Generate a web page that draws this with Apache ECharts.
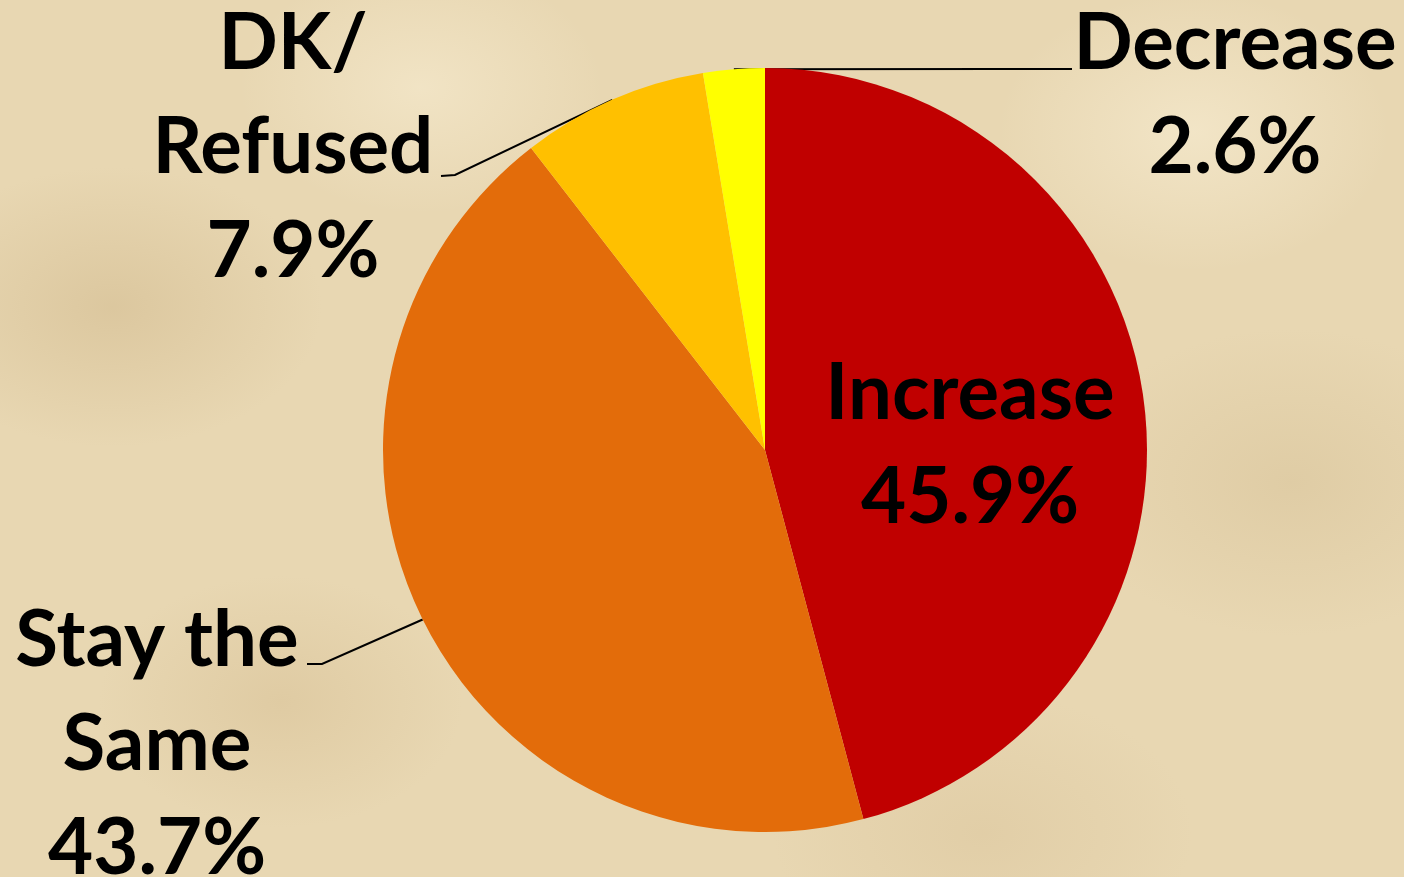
<!DOCTYPE html>
<html>
<head>
<meta charset="utf-8">
<script src="https://cdn.jsdelivr.net/npm/echarts@6/dist/echarts.min.js"></script>
<style>
html,body{margin:0;padding:0;width:1404px;height:877px;overflow:hidden;}
body{
  background:
    radial-gradient(ellipse 300px 200px at 8% 35%, rgba(205,180,135,0.45), rgba(205,180,135,0) 70%),
    radial-gradient(ellipse 260px 180px at 20% 80%, rgba(210,185,140,0.40), rgba(210,185,140,0) 70%),
    radial-gradient(ellipse 320px 220px at 92% 55%, rgba(210,188,145,0.40), rgba(210,188,145,0) 70%),
    radial-gradient(ellipse 280px 200px at 85% 15%, rgba(250,240,215,0.55), rgba(250,240,215,0) 70%),
    radial-gradient(ellipse 260px 180px at 30% 10%, rgba(250,240,215,0.5), rgba(250,240,215,0) 70%),
    radial-gradient(ellipse 300px 200px at 70% 95%, rgba(215,192,150,0.40), rgba(215,192,150,0) 70%),
    #E8D7B2;
}
#chart{width:1404px;height:877px;}
</style>
</head>
<body>
<div id="chart"></div>
<script>
// Data
const categories = ['Increase', 'Stay the\nSame', 'DK/\nRefused', 'Decrease'];
const values = [45.9, 43.7, 7.9, 2.6];
const colors = ['#C00000', '#E36C0A', '#FFC000', '#FFFF00'];

// label layout (styling only)
const labelPos = [
  {x: 970, y: 446, line: null},
  {x: 157, y: 745, line: [[322, 664], [307, 664]]},
  {x: 293, y: 148, line: [[455, 175], [441, 176]]},
  {x: 1235, y: 96, line: [[1000, 69], [1072, 69]]}
];

const chart = echarts.init(document.getElementById('chart'), null, {renderer: 'canvas'});
const option = {
  backgroundColor: 'transparent',
  animation: false,
  series: [{
    type: 'pie',
    center: [765, 450],
    radius: 382,
    startAngle: 90,
    clockwise: true,
    avoidLabelOverlap: false,
    itemStyle: {borderWidth: 0},
    label: {
      show: true,
      position: 'outside',
      color: '#000',
      fontFamily: 'Lato, "Open Sans", sans-serif',
      fontWeight: 'bold',
      fontSize: 78,
      lineHeight: 104,
      align: 'center',
      formatter: function (p) { return p.name + '\n' + p.value.toFixed(1) + '%'; }
    },
    labelLine: {show: true, lineStyle: {color: '#000', width: 2}, length: 20, length2: 20},
    labelLayout: function (params) {
      const lp = labelPos[params.dataIndex];
      const res = {x: lp.x, y: lp.y, align: 'center', verticalAlign: 'middle'};
      if (lp.line && params.labelLinePoints) {
        res.labelLinePoints = [params.labelLinePoints[0], lp.line[0], lp.line[1]];
      }
      return res;
    },
    data: categories.map((c, i) => ({
      name: c,
      value: values[i],
      itemStyle: {color: colors[i]},
      labelLine: i === 0 ? {show: false} : undefined
    }))
  }]
};
chart.setOption(option);
</script>
</body>
</html>
